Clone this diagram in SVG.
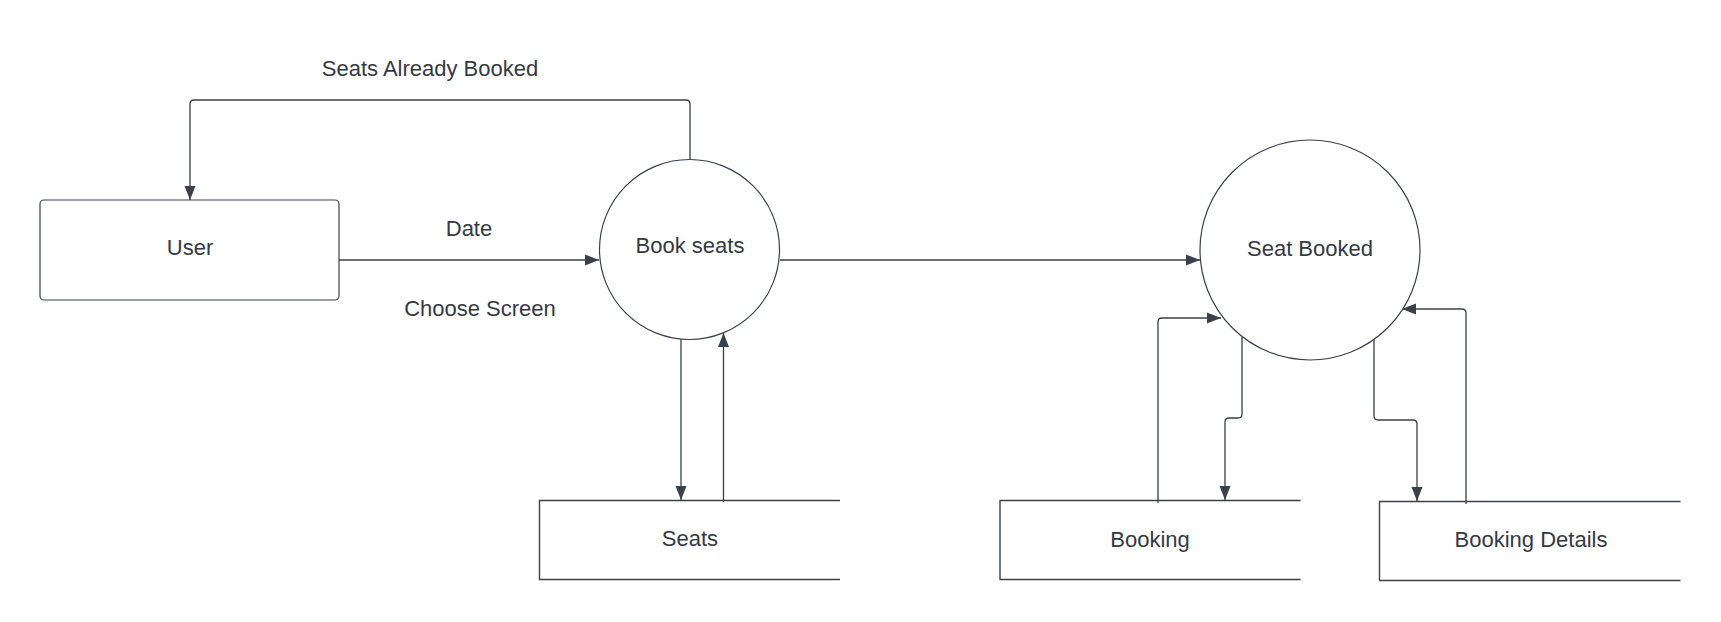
<svg xmlns="http://www.w3.org/2000/svg" width="1721" height="622" viewBox="0 0 1721 622">
<style>
.shape{fill:#ffffff;stroke:#3a414a;stroke-width:1.2}
.store{fill:none;stroke:#3a414a;stroke-width:1.4}
.conn{fill:none;stroke:#3a414a;stroke-width:1.3}
text{font-family:"Liberation Sans",Arial,sans-serif;font-size:22px;fill:#333a45;text-anchor:middle;dominant-baseline:central}
</style>
<defs>
<marker id="arr" markerUnits="userSpaceOnUse" markerWidth="16" markerHeight="12" refX="14" refY="6" orient="auto">
<path d="M0,0.5 L14,6 L0,11.5 Z" fill="#3a414a"/>
</marker>
</defs>
<rect width="1721" height="622" fill="#ffffff"/>
<g id="connectors">
<path class="conn" d="M690,160 V104 Q690,100 686,100 H194 Q190,100 190,104 V200" marker-end="url(#arr)"/>
<path class="conn" d="M339,260 H599" marker-end="url(#arr)"/>
<path class="conn" d="M780,260 H1200" marker-end="url(#arr)"/>
<path class="conn" d="M681,339 V500" marker-end="url(#arr)"/>
<path class="conn" d="M723.5,502 V333" marker-end="url(#arr)"/>
<path class="conn" d="M1158,503 V322 Q1158,318 1162,318 H1221" marker-end="url(#arr)"/>
<path class="conn" d="M1242,337 V414 Q1242,418 1238,418 H1229 Q1225,418 1225,422 V500" marker-end="url(#arr)"/>
<path class="conn" d="M1374,340 V416 Q1374,420 1378,420 H1413 Q1417,420 1417,424 V501" marker-end="url(#arr)"/>
<path class="conn" d="M1466,504 V313 Q1466,309 1462,309 H1402" marker-end="url(#arr)"/>
</g>
<g id="labels">
<text x="430" y="68">Seats Already Booked</text>
<text x="469" y="228">Date</text>
<text x="480" y="308">Choose Screen</text>
</g>
<g id="user">
<rect class="shape" x="40" y="200" width="299" height="100" rx="4"/>
<text x="190" y="247">User</text>
</g>
<g id="book-seats">
<circle class="shape" cx="689.5" cy="249.5" r="90"/>
<text x="690" y="245">Book seats</text>
</g>
<g id="seat-booked">
<circle class="shape" cx="1310" cy="250" r="110"/>
<text x="1310" y="248">Seat Booked</text>
</g>
<g id="seats">
<path class="store" d="M840,500.5 H539.5 V579.5 H840"/>
<text x="690" y="538">Seats</text>
</g>
<g id="booking">
<path class="store" d="M1300.5,500.5 H1000 V579.5 H1300.5"/>
<text x="1150" y="539">Booking</text>
</g>
<g id="booking-details">
<path class="store" d="M1680.5,501.5 H1379.5 V580.5 H1680.5"/>
<text x="1531" y="539.5">Booking Details</text>
</g>
</svg>
